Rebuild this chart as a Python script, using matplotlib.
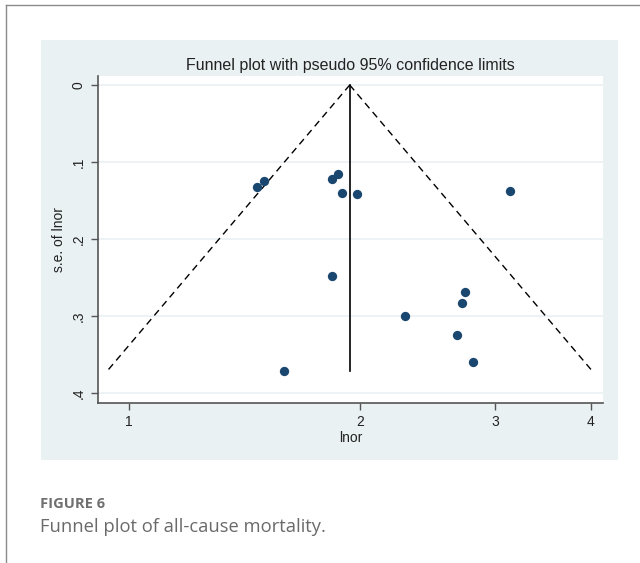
import numpy as np
import matplotlib.pyplot as plt
from matplotlib.lines import Line2D
from matplotlib.patches import Rectangle

# study odds ratios (x, log scale) and standard errors of lnor (y)
odds_ratios = [1.468, 1.499, 1.840, 1.874, 1.893, 1.984, 3.139,
               1.840, 2.287, 2.740, 2.716, 2.681, 2.807, 1.591]
se_lnor = [0.1325, 0.1247, 0.122, 0.116, 0.140, 0.1416, 0.1377,
           0.2476, 0.3004, 0.2692, 0.2827, 0.325, 0.3597, 0.3718]
pooled_or = 1.94

x_ticks = [1, 2, 3, 4]
y_ticks = [0, 0.1, 0.2, 0.3, 0.4]
y_ticklabels = ["0", ".1", ".2", ".3", ".4"]

W, H = 640, 563
fig = plt.figure(figsize=(W / 100, H / 100), dpi=100)
fig.patch.set_facecolor("white")

# page frame
fig.add_artist(Line2D([6 / W, 1], [1 - 5 / H, 1 - 5 / H], color="#8a8a8a", lw=1))
fig.add_artist(Line2D([6 / W, 6 / W], [0, 1 - 5 / H], color="#8a8a8a", lw=1))

# stata graph region
bg = "#eaf1f3"
fig.add_artist(Rectangle((41 / W, 1 - 460 / H), (618 - 41) / W, (460 - 40) / H,
                         facecolor=bg, edgecolor="none", transform=fig.transFigure, zorder=0))

left, right, top, bottom = 98, 603, 76, 403
ax = fig.add_axes([left / W, 1 - bottom / H, (right - left) / W, (bottom - top) / H])
ax.set_facecolor("white")

ax.set_xscale("log")
lo = np.log(pooled_or)
ax.set_xlim(np.exp(-0.093), np.exp(1.423))
ax.set_ylim(0.413, -0.0117)

# funnel lines
smax = max(se_lnor)
s = np.array([0, smax])
ax.plot(np.exp(lo - 1.96 * s), s, color="black", lw=1, ls=(0, (5, 3.5)))
ax.plot(np.exp(lo + 1.96 * s), s, color="black", lw=1, ls=(0, (5, 3.5)))
ax.plot([pooled_or, pooled_or], [0, smax], color="black", lw=1.2)

ax.scatter(odds_ratios, se_lnor, s=45, color="#1a476f", zorder=3, linewidths=0)

ax.set_xticks(x_ticks)
ax.set_xticklabels([str(t) for t in x_ticks])
ax.xaxis.set_minor_locator(plt.NullLocator())
ax.set_yticks(y_ticks)
ax.set_yticklabels(y_ticklabels, rotation=90, va="center")
ax.yaxis.grid(True, color=bg, lw=1.2)
ax.set_axisbelow(True)

for side in ["top", "right"]:
    ax.spines[side].set_visible(False)
for side in ["left", "bottom"]:
    ax.spines[side].set_color("#555555")
    ax.spines[side].set_linewidth(1.2)
ax.tick_params(direction="out", length=5, width=1, color="#555555",
               labelsize=10, labelcolor="#222222", pad=4)
for lab in ax.get_xticklabels() + ax.get_yticklabels():
    lab.set_family("Liberation Sans")

ax.set_xlabel("lnor", family="Liberation Sans", fontsize=10, color="#222222", labelpad=1)
ax.set_ylabel("s.e. of lnor", family="Liberation Sans", fontsize=10, color="#222222", labelpad=4)
ax.set_title("Funnel plot with pseudo 95% confidence limits", family="Liberation Sans",
             fontsize=11.5, color="#222222", pad=4)

fig.text(40 / W, 1 - 504 / H, "FIGURE 6", family="Open Sans", fontsize=10.6,
         fontweight="bold", color="#707070", va="center")
fig.text(40 / W, 1 - 527 / H, "Funnel plot of all-cause mortality.", family="Open Sans",
         fontsize=13.2, color="#6a6a6a", va="center")

fig.savefig("out.png", dpi=100)
